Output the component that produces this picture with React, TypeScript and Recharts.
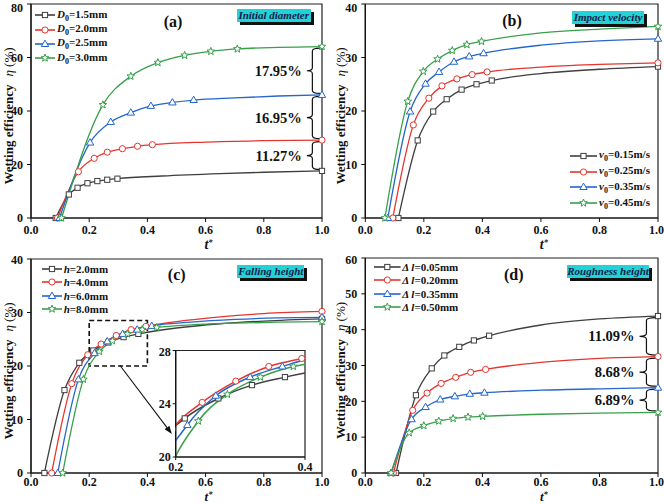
import React from "react";
import { LineChart, Line, XAxis, YAxis, ReferenceArea, ReferenceLine, Legend } from "recharts";

// [t*, eta (%), marker shown]
type Pt = [number, number, number];

// (a) initial diameter
const aD15: Pt[] = [[0.085, 0, 1], [0.13, 8.8, 1], [0.16, 11.3, 1], [0.194, 13.0, 1], [0.228, 13.8, 1], [0.262, 14.3, 1], [0.297, 14.7, 1], [0.45, 15.7, 0], [0.65, 16.6, 0], [0.8, 17.1, 0], [1.0, 17.6, 1]];
const aD20: Pt[] = [[0.091, 0, 1], [0.163, 17.3, 1], [0.217, 22.3, 1], [0.262, 24.6, 1], [0.314, 25.9, 1], [0.366, 26.8, 1], [0.417, 27.4, 1], [0.6, 28.4, 0], [0.8, 28.9, 0], [1.0, 29.1, 1]];
const aD25: Pt[] = [[0.098, 0, 1], [0.203, 28.2, 1], [0.274, 35.9, 1], [0.343, 39.4, 1], [0.412, 41.9, 1], [0.486, 43.2, 1], [0.559, 44.1, 1], [0.7, 44.9, 0], [0.85, 45.6, 0], [1.0, 46.0, 1]];
const aD30: Pt[] = [[0.105, 0, 1], [0.247, 42.3, 1], [0.343, 53.0, 1], [0.436, 58.1, 1], [0.528, 60.8, 1], [0.618, 62.3, 1], [0.709, 63.2, 1], [0.85, 63.8, 0], [1.0, 64.1, 1]];
const aGaps = ["17.95%", "16.95%", "11.27%"];

// (b) impact velocity
const bV15: Pt[] = [[0.113, 0, 1], [0.179, 14.5, 1], [0.232, 19.9, 1], [0.278, 22.2, 1], [0.329, 24.0, 1], [0.38, 25.0, 1], [0.432, 25.7, 1], [0.6, 27.0, 0], [0.8, 27.8, 0], [1.0, 28.3, 1]];
const bV25: Pt[] = [[0.094, 0, 1], [0.164, 17.4, 1], [0.217, 22.4, 1], [0.262, 24.7, 1], [0.313, 26.0, 1], [0.365, 26.8, 1], [0.416, 27.3, 1], [0.6, 28.2, 0], [0.8, 28.7, 0], [1.0, 29.0, 1]];
const bV35: Pt[] = [[0.077, 0, 1], [0.153, 19.9, 1], [0.206, 25.1, 1], [0.252, 27.3, 1], [0.303, 29.2, 1], [0.355, 30.2, 1], [0.404, 30.8, 1], [0.6, 32.3, 0], [0.8, 33.1, 0], [1.0, 33.5, 1]];
const bV45: Pt[] = [[0.067, 0, 1], [0.145, 21.8, 1], [0.198, 27.4, 1], [0.247, 29.7, 1], [0.297, 31.3, 1], [0.347, 32.4, 1], [0.397, 33.0, 1], [0.6, 34.6, 0], [0.8, 35.3, 0], [1.0, 35.8, 1]];

// (c) falling height
const cH20: Pt[] = [[0.046, 0, 1], [0.115, 15.5, 1], [0.166, 20.6, 1], [0.214, 22.9, 1], [0.266, 24.4, 1], [0.318, 25.4, 1], [0.369, 26.0, 1], [0.5, 27.1, 0], [0.65, 27.9, 0], [0.8, 28.4, 0], [1.0, 28.8, 1]];
const cH40: Pt[] = [[0.071, 0, 1], [0.14, 16.7, 1], [0.195, 22.1, 1], [0.241, 24.1, 1], [0.293, 25.7, 1], [0.344, 26.8, 1], [0.395, 27.4, 1], [0.5, 28.3, 0], [0.65, 29.2, 0], [0.8, 29.8, 0], [1.0, 30.2, 1]];
const cH60: Pt[] = [[0.092, 0, 1], [0.163, 17.5, 1], [0.218, 22.4, 1], [0.262, 24.6, 1], [0.315, 26.0, 1], [0.365, 26.8, 1], [0.415, 27.5, 1], [0.55, 28.2, 0], [0.7, 28.7, 0], [0.85, 29.0, 0], [1.0, 29.1, 1]];
const cH80: Pt[] = [[0.109, 0, 1], [0.18, 17.5, 1], [0.235, 22.7, 1], [0.28, 24.7, 1], [0.331, 26.0, 1], [0.382, 26.8, 1], [0.432, 27.2, 1], [0.55, 27.7, 0], [0.7, 28.0, 0], [0.85, 28.2, 0], [1.0, 28.3, 1]];

// (d) roughness height
const dL05: Pt[] = [[0.105, 0, 1], [0.173, 21.7, 1], [0.227, 29.2, 1], [0.27, 32.8, 1], [0.321, 35.2, 1], [0.371, 37.0, 1], [0.423, 38.3, 1], [0.6, 41.3, 0], [0.8, 43.0, 0], [1.0, 43.8, 1]];
const dL20: Pt[] = [[0.096, 0, 1], [0.162, 17.5, 1], [0.211, 22.3, 1], [0.259, 25.0, 1], [0.309, 26.7, 1], [0.36, 28.1, 1], [0.411, 28.9, 1], [0.6, 30.9, 0], [0.8, 32.0, 0], [1.0, 32.5, 1]];
const dL35: Pt[] = [[0.088, 0, 1], [0.158, 15.0, 1], [0.206, 18.4, 1], [0.256, 20.5, 1], [0.306, 21.4, 1], [0.357, 22.1, 1], [0.407, 22.4, 1], [0.6, 23.1, 0], [0.8, 23.5, 0], [1.0, 23.8, 1]];
const dL50: Pt[] = [[0.088, 0, 1], [0.15, 11.2, 1], [0.2, 13.2, 1], [0.251, 14.5, 1], [0.3, 15.2, 1], [0.351, 15.6, 1], [0.401, 15.8, 1], [0.6, 16.4, 0], [0.8, 16.7, 0], [1.0, 16.9, 1]];
const dGaps = ["11.09%", "8.68%", "6.89%"];

const xTicks = [0, 0.2, 0.4, 0.6, 0.8, 1.0];

const BLACK = "#3f3f3f";
const RED = "#e5352f";
const BLUE = "#2466cc";
const GREEN = "#36a04a";
const SERIF = "Liberation Serif, Times New Roman, serif";

type Shape = "square" | "circle" | "triangle" | "star";

const starPts = (cx: number, cy: number, R: number, r: number) =>
  Array.from({ length: 10 }, (_, i) => {
    const a = -Math.PI / 2 + (i * Math.PI) / 5;
    const rad = i % 2 ? r : R;
    return `${cx + rad * Math.cos(a)},${cy + rad * Math.sin(a)}`;
  }).join(" ");

function Marker({ shape, cx, cy, color }: { shape: Shape; cx: number; cy: number; color: string }) {
  const common = { fill: "#fff", stroke: color, strokeWidth: 1 };
  if (shape === "square") return <rect x={cx - 2.6} y={cy - 2.6} width={5.2} height={5.2} {...common} />;
  if (shape === "circle") return <circle cx={cx} cy={cy} r={3.1} {...common} />;
  if (shape === "triangle")
    return <polygon points={`${cx},${cy - 3.9} ${cx + 3.7},${cy + 2.5} ${cx - 3.7},${cy + 2.5}`} {...common} />;
  return <polygon points={starPts(cx, cy, 4, 1.7)} {...common} />;
}

const dotFor = (shape: Shape, color: string) => (p: any) => {
  if (!p.payload?.m || p.cx == null) return <g key={p.index} />;
  return (
    <g key={p.index}>
      <Marker shape={shape} cx={p.cx} cy={p.cy} color={color} />
    </g>
  );
};

type Series = { pts: Pt[]; color: string; shape: Shape; label: React.ReactNode };

const sub0 = <span style={{ fontSize: 8, verticalAlign: -3 }}>0</span>;

const aSeries: Series[] = [
  { pts: aD15, color: BLACK, shape: "square", label: <><i>D</i>{sub0}=1.5mm</> },
  { pts: aD20, color: RED, shape: "circle", label: <><i>D</i>{sub0}=2.0mm</> },
  { pts: aD25, color: BLUE, shape: "triangle", label: <><i>D</i>{sub0}=2.5mm</> },
  { pts: aD30, color: GREEN, shape: "star", label: <><i>D</i>{sub0}=3.0mm</> },
];
const bSeries: Series[] = [
  { pts: bV15, color: BLACK, shape: "square", label: <><i>v</i>{sub0}=0.15m/s</> },
  { pts: bV25, color: RED, shape: "circle", label: <><i>v</i>{sub0}=0.25m/s</> },
  { pts: bV35, color: BLUE, shape: "triangle", label: <><i>v</i>{sub0}=0.35m/s</> },
  { pts: bV45, color: GREEN, shape: "star", label: <><i>v</i>{sub0}=0.45m/s</> },
];
const cSeries: Series[] = [
  { pts: cH20, color: BLACK, shape: "square", label: <><i>h</i>=2.0mm</> },
  { pts: cH40, color: RED, shape: "circle", label: <><i>h</i>=4.0mm</> },
  { pts: cH60, color: BLUE, shape: "triangle", label: <><i>h</i>=6.0mm</> },
  { pts: cH80, color: GREEN, shape: "star", label: <><i>h</i>=8.0mm</> },
];
const dSeries: Series[] = [
  { pts: dL05, color: BLACK, shape: "square", label: <><i>Δ l</i>=0.05mm</> },
  { pts: dL20, color: RED, shape: "circle", label: <><i>Δ l</i>=0.20mm</> },
  { pts: dL35, color: BLUE, shape: "triangle", label: <><i>Δ l</i>=0.35mm</> },
  { pts: dL50, color: GREEN, shape: "star", label: <><i>Δ l</i>=0.50mm</> },
];

const rows = (pts: Pt[]) => pts.map(([t, v, m]) => ({ t, v, m }));

const tickStyle = { fill: "#111", fontSize: 12, fontWeight: 700, fontFamily: SERIF };

const Brace = (label: string) => (p: any) => {
  const { x, width } = p;
  const y = p.y + 1.5;
  const h = p.height - 3;
  const xm = x + width * 0.42;
  const ym = y + h / 2;
  const r = 3;
  const d = `M${x + width},${y} Q${xm},${y} ${xm},${y + r} L${xm},${ym - r} Q${xm},${ym} ${x},${ym} Q${xm},${ym} ${xm},${ym + r} L${xm},${y + h - r} Q${xm},${y + h} ${x + width},${y + h}`;
  return (
    <g>
      <path d={d} fill="none" stroke="#111" strokeWidth={1.2} />
      <text x={x - 5} y={ym + 5} textAnchor="end" fontFamily={SERIF} fontWeight={700} fontSize={14.5} fill="#111">
        {label}
      </text>
    </g>
  );
};

const Arrow = (p: any) => {
  const { x1, y1, x2, y2 } = p;
  const dx = x2 - x1;
  const dy = y2 - y1;
  const len = Math.sqrt(dx * dx + dy * dy) || 1;
  const ux = dx / len;
  const uy = dy / len;
  const bx = x2 - ux * 8;
  const by = y2 - uy * 8;
  return (
    <g>
      <line x1={x1} y1={y1} x2={bx} y2={by} stroke="#111" strokeWidth={1.1} />
      <polygon points={`${x2},${y2} ${bx - uy * 3},${by + ux * 3} ${bx + uy * 3},${by - ux * 3}`} fill="#111" />
    </g>
  );
};

type PanelProps = {
  left: number;
  top: number;
  series: Series[];
  yMax: number;
  yTicks: number[];
  margin: { top: number; right: number; bottom: number; left: number };
  yWidth: number;
  xLabelDy: number;
  xLabelSize: number;
  xTickMargin: number;
  tag: string;
  tagPos: [number, number];
  box: string;
  boxPos: [number, number, number];
  legendPos: [number, number];
  legendRow: number;
  legendSym: number;
  gaps?: string[];
  braceX?: [number, number];
  zoomBox?: boolean;
  children?: React.ReactNode;
};

function Panel(props: PanelProps) {
  const { series, yMax, yTicks, gaps, braceX } = props;
  const ends = series.map((s) => s.pts[s.pts.length - 1][1]).sort((a, b) => b - a);

  const legend = () => (
    <div style={{ fontFamily: SERIF, fontWeight: 700, fontSize: 11, color: "#111" }}>
      {series.map((s, i) => (
        <div key={i} style={{ display: "flex", alignItems: "center", height: props.legendRow, whiteSpace: "nowrap" }}>
          <svg width={props.legendSym} height={10} style={{ overflow: "visible" }}>
            <line x1={0} y1={5} x2={props.legendSym} y2={5} stroke={s.color} strokeWidth={1.6} />
            <Marker shape={s.shape} cx={props.legendSym / 2} cy={5} color={s.color} />
          </svg>
          <span style={{ marginLeft: 2 }}>{s.label}</span>
        </div>
      ))}
    </div>
  );

  return (
    <div style={{ position: "absolute", left: props.left, top: props.top, width: 332, height: 252 }}>
      <LineChart width={332} height={252} margin={props.margin}>
        <XAxis
          type="number"
          dataKey="t"
          domain={[0, 1]}
          ticks={xTicks}
          tickFormatter={(v: number) => v.toFixed(1)}
          tick={tickStyle}
          tickSize={4}
          tickMargin={props.xTickMargin}
          height={30}
          axisLine={{ stroke: "#111", strokeWidth: 1.2 }}
          tickLine={{ stroke: "#111" }}
          allowDuplicatedCategory={false}
          label={(p: any) => (
            <text x={p.viewBox.x + p.viewBox.width * 0.61} y={p.viewBox.y + props.xLabelDy} textAnchor="middle" fontFamily={SERIF} fontSize={props.xLabelSize} fontWeight={700} fontStyle="italic" fill="#111">
              t<tspan dy={-4} fontSize={8.5}>*</tspan>
            </text>
          )}
        />
        <YAxis
          type="number"
          domain={[0, yMax]}
          ticks={yTicks}
          tick={tickStyle}
          tickSize={4}
          tickMargin={4}
          width={props.yWidth}
          axisLine={{ stroke: "#111", strokeWidth: 1.2 }}
          tickLine={{ stroke: "#111" }}
          label={(p: any) => {
            const cy = p.viewBox.y + p.viewBox.height / 2 + 5;
            return (
              <text transform={`translate(12.5, ${cy}) rotate(-90)`} textAnchor="middle" fontFamily={SERIF} fontSize={13} fill="#111">
                <tspan fontWeight={700}>Wetting efficiency</tspan>
                <tspan dx={8} fontStyle="italic">η</tspan>
                <tspan> (%)</tspan>
              </text>
            );
          }}
        />
        <ReferenceArea x1={0} x2={1} y1={0} y2={yMax} fill="none" stroke="#222" strokeWidth={1.2} />
        {props.zoomBox && (
          <ReferenceArea x1={0.2} x2={0.4} y1={20} y2={28.5} fill="none" stroke="#111" strokeWidth={1.6} strokeDasharray="5 3" />
        )}
        {props.zoomBox && (
          <ReferenceLine segment={[{ x: 0.306, y: 20.1 }, { x: 0.484, y: 7.3 }]} shape={Arrow} />
        )}
        {gaps &&
          braceX &&
          gaps.map((g, i) => (
            <ReferenceArea key={g} x1={braceX[0]} x2={braceX[1]} y1={ends[i + 1]} y2={ends[i]} shape={Brace(g)} />
          ))}
        {series.map((s, i) => (
          <Line
            key={i}
            data={rows(s.pts)}
            dataKey="v"
            type="monotone"
            stroke={s.color}
            strokeWidth={1.3}
            dot={dotFor(s.shape, s.color)}
            activeDot={false}
            isAnimationActive={false}
          />
        ))}
        <Legend
          layout="vertical"
          align="center"
          verticalAlign="middle"
          content={legend}
          wrapperStyle={{ left: props.legendPos[0], top: props.legendPos[1], width: "auto" }}
        />
      </LineChart>
      <div
        style={{
          position: "absolute",
          left: props.boxPos[0],
          top: props.boxPos[1],
          width: props.boxPos[2],
          height: 13,
          background: "#1fd3d6",
          boxShadow: "3px 3px 0 #111",
          fontFamily: SERIF,
          fontStyle: "italic",
          fontWeight: 700,
          fontSize: 11,
          lineHeight: "13px",
          textAlign: "center",
          color: "#161a4a",
          whiteSpace: "nowrap",
        }}
      >
        {props.box}
      </div>
      <div
        style={{
          position: "absolute",
          left: props.tagPos[0] - 20,
          top: props.tagPos[1] - 10,
          width: 40,
          textAlign: "center",
          fontFamily: SERIF,
          fontWeight: 700,
          fontSize: 16,
          lineHeight: "20px",
          color: "#111",
        }}
      >
        {props.tag}
      </div>
      {props.children}
    </div>
  );
}

function Inset() {
  return (
    <>
      <div style={{ position: "absolute", left: 175.7, top: 98.5, width: 129.3, height: 106.5, background: "#fff" }} />
      <div style={{ position: "absolute", left: 155, top: 92 }}>
        <LineChart width={160} height={130} margin={{ top: 6.5, right: 10, bottom: 0, left: 0 }}>
          <XAxis
            type="number"
            dataKey="t"
            domain={[0.2, 0.4]}
            ticks={[0.2, 0.4]}
            allowDataOverflow
            tickFormatter={(v: number) => v.toFixed(1)}
            tick={tickStyle}
            tickSize={3}
            tickMargin={2}
            height={17}
            axisLine={{ stroke: "#111", strokeWidth: 1.2 }}
            tickLine={{ stroke: "#111" }}
          />
          <YAxis
            type="number"
            domain={[20, 28]}
            ticks={[20, 24, 28]}
            allowDataOverflow
            tick={tickStyle}
            tickSize={3}
            tickMargin={2}
            width={20.7}
            axisLine={{ stroke: "#111", strokeWidth: 1.2 }}
            tickLine={{ stroke: "#111" }}
          />
          <ReferenceArea x1={0.2} x2={0.4} y1={20} y2={28} fill="none" stroke="#222" strokeWidth={1.2} />
          {cSeries.map((s, i) => (
            <Line
              key={i}
              data={rows(s.pts)}
              dataKey="v"
              type="monotone"
              stroke={s.color}
              strokeWidth={1.5}
              dot={dotFor(s.shape, s.color)}
              activeDot={false}
              isAnimationActive={false}
            />
          ))}
        </LineChart>
      </div>
    </>
  );
}

export default function App() {
  return (
    <div style={{ position: "absolute", left: 0, top: 0, width: 664, height: 504, background: "#fff", overflow: "hidden" }}>
      <Panel
        left={0}
        top={0}
        series={aSeries}
        yMax={80}
        yTicks={[0, 20, 40, 60, 80]}
        margin={{ top: 4, right: 10, bottom: 4, left: 0 }}
        yWidth={31}
        xLabelDy={31}
        xLabelSize={14}
        xTickMargin={3}
        tag="(a)"
        tagPos={[173, 21.7]}
        box="Initial diameter"
        boxPos={[236.7, 9, 74]}
        legendPos={[35, 8]}
        legendRow={14.4}
        legendSym={20}
        gaps={aGaps}
        braceX={[0.948, 0.993]}
      />
      <Panel
        left={332}
        top={0}
        series={bSeries}
        yMax={40}
        yTicks={[0, 10, 20, 30, 40]}
        margin={{ top: 4, right: 6, bottom: 4, left: 0 }}
        yWidth={33.3}
        xLabelDy={31}
        xLabelSize={14}
        xTickMargin={3}
        tag="(b)"
        tagPos={[180, 20.7]}
        box="Impact velocity"
        boxPos={[240, 10.5, 72]}
        legendPos={[238, 148]}
        legendRow={15.8}
        legendSym={27}
      />
      <Panel
        left={0}
        top={252}
        series={cSeries}
        yMax={40}
        yTicks={[0, 10, 20, 30, 40]}
        margin={{ top: 7, right: 10, bottom: 1, left: 0 }}
        yWidth={31}
        xLabelDy={27.9}
        xLabelSize={13}
        xTickMargin={0.5}
        tag="(c)"
        tagPos={[176.7, 23.3]}
        box="Falling height"
        boxPos={[237.3, 13, 67]}
        legendPos={[41.7, 10]}
        legendRow={13.5}
        legendSym={20}
        zoomBox
      >
        <Inset />
      </Panel>
      <Panel
        left={332}
        top={252}
        series={dSeries}
        yMax={60}
        yTicks={[0, 10, 20, 30, 40, 50, 60]}
        margin={{ top: 6, right: 6, bottom: 1, left: 0 }}
        yWidth={33.3}
        xLabelDy={27.9}
        xLabelSize={13}
        xTickMargin={0.5}
        tag="(d)"
        tagPos={[181.7, 23.3]}
        box="Roughness height"
        boxPos={[235, 12.7, 82]}
        legendPos={[41.7, 8.5]}
        legendRow={13.3}
        legendSym={26.6}
        gaps={dGaps}
        braceX={[0.937, 0.993]}
      />
    </div>
  );
}
